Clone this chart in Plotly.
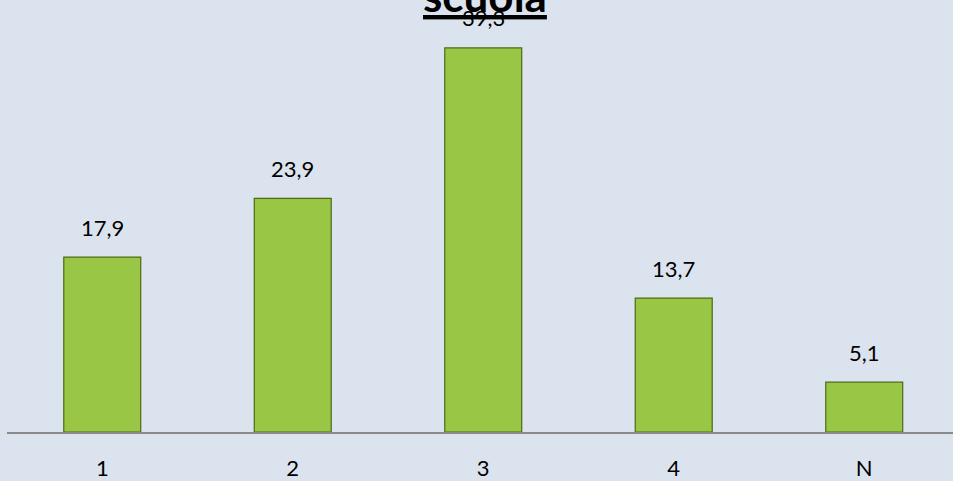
import plotly.graph_objects as go

categories = ["1", "2", "3", "4", "N"]
values = [17.9, 23.9, 39.3, 13.7, 5.1]
title_text = "scuola"

bg = "#dbe3ee"
fig = go.Figure()
fig.add_trace(go.Bar(
    x=categories, y=values, width=0.404,
    marker=dict(color="#9ac646", line=dict(color="#4d6b14", width=1.2)),
    hoverinfo="skip",
))

fig.add_annotation(
    x=0.505, y=1, xref="paper", yref="paper",
    text=f"<b><u>{title_text}</u></b>", showarrow=False,
    yanchor="bottom", yshift=-23,
    font=dict(family="Lato, Carlito, sans-serif", size=44, color="#000000"),
)

for i, v in enumerate(values):
    fig.add_annotation(
        x=i, y=v, xref="x", yref="y",
        text=f"{v:.1f}".replace(".", ","),
        showarrow=False, yshift=30,
        font=dict(family="Lato, Carlito, sans-serif", size=22, color="#000000"),
    )

fig.update_layout(
    width=953, height=481,
    margin=dict(l=7, r=0, t=0, b=47),
    paper_bgcolor=bg, plot_bgcolor=bg,
    showlegend=False,
    xaxis=dict(
        type="category",
        range=[-0.5, 4.466], showgrid=False, zeroline=False,
        showline=True, linecolor="#8a8a8a", linewidth=2,
        ticks="", ticklabelstandoff=16,
        tickfont=dict(family="Lato, Carlito, sans-serif", size=22, color="#000000"),
    ),
    yaxis=dict(range=[0, 44.2], visible=False, showgrid=False, zeroline=False),
)

fig.write_html("out.html", config={"displayModeBar": False},
               post_script="document.body.style.margin='0';")
